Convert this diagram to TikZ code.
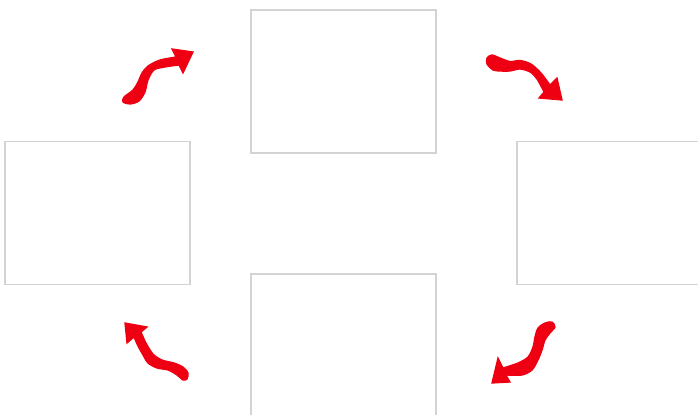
\documentclass[tikz,border=0pt]{standalone}
\definecolor{framegray}{RGB}{211,211,211}
\definecolor{arrowred}{RGB}{238,0,18}
\begin{document}
\begin{tikzpicture}[
  x=0.03cm, y=-0.03cm,
  stagebox/.style={draw=framegray, line width=1.5pt, fill=white, minimum width=5.55cm, minimum height=4.29cm, inner sep=0pt},
  curlyarrow/.style={fill=arrowred, draw=arrowred, line width=1.1pt},
]
  \useasboundingbox (0,0) rectangle (698,414);
  \clip (0,0) rectangle (698,414);

  % vier Felder
  \node[stagebox] (top) at (343.5,81.5) {};
  \node[stagebox] (left) at (97.5,213) {};
  \node[stagebox] (right) at (609.5,213) {};
  \node[stagebox] (bottom) at (343.5,345.5) {};

  % Pfeile -- links oben
  \filldraw[curlyarrow] (172,49) -- (193,52) -- (183,73) -- (179,65) -- plot[smooth] coordinates {
    (179,65) (165,67) (154,70) (148,80) (145,92) (139,101) (130,104) (123,102)
    (124,97) (133,90) (138,82) (142,73) (148,66) (160,60) (176,57)} -- cycle;
  % rechts oben
  \filldraw[curlyarrow] (557,78) -- (562,100) -- (539,98) -- (544,92) -- plot[smooth] coordinates {
    (544,92) (537,79) (530,72) (520,69) (510,71) (500,71) (493,70) (487,64)
    (487,58) (492,55) (500,58) (510,61.5) (520,60.5) (531,64) (541,73) (550,85)} -- cycle;
  % links unten
  \filldraw[curlyarrow] (125,323) -- (147,327) -- (141,332) -- plot[smooth] coordinates {
    (141,332) (146,343) (153,354) (162,360) (174,363) (183,367) (188,373) (187,379)
    (183,380) (177,375) (168,370) (157,368) (148,363) (143,355) (138,346) (134,337)} -- (127,343) -- cycle;
  % rechts unten
  \filldraw[curlyarrow] (498,358) -- (492,383) -- (510,382) -- (506,375) -- plot[smooth] coordinates {
    (506,375) (522,375) (532,370) (538,360) (542,350) (545,340) (550,333) (555,327)
    (552,322) (545,323) (538,328) (535,337) (533,347) (528,357) (518,363) (503,368)} -- cycle;
\end{tikzpicture}
\end{document}
